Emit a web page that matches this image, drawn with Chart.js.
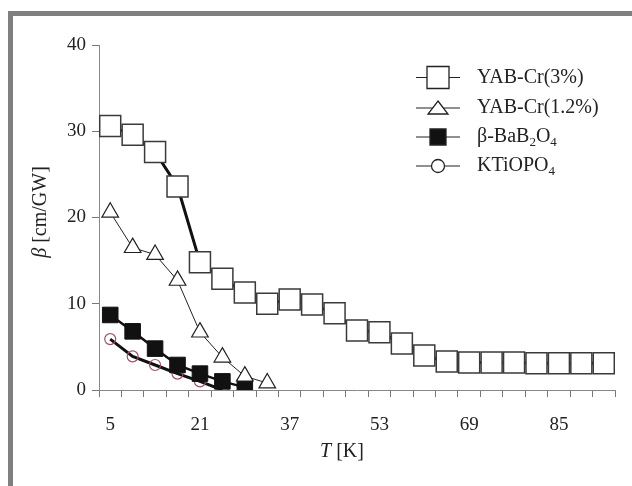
<!DOCTYPE html>
<html>
<head>
<meta charset="utf-8">
<script src="https://cdn.jsdelivr.net/npm/chart.js@4"></script>
<style>
  body { margin: 0; background: #fff; }
  #wrap { position: relative; width: 632px; height: 486px; }
  #frame {
    position: absolute; left: 8px; top: 11px; right: 0; bottom: 0;
    border-top: 5px solid #808080; border-left: 5px solid #808080;
    pointer-events: none;
  }
</style>
</head>
<body>
<div id="wrap">
  <canvas id="chart" width="632" height="486"></canvas>
  <div id="frame"></div>
</div>
<script>
// Temperature categories (K)
const temps = [5, 9, 13, 17, 21, 25, 29, 33, 37, 41, 45, 49, 53, 57, 61, 65, 69, 73, 77, 81, 85, 89, 93];
// beta values (cm/GW)
const yabCr3 = [30.6, 29.6, 27.6, 23.6, 14.8, 12.9, 11.3, 10.0, 10.5, 9.9, 8.9, 6.9, 6.7, 5.4, 4.0, 3.3, 3.2, 3.2, 3.2, 3.1, 3.1, 3.1, 3.1];
const yabCr12 = [20.6, 16.5, 15.7, 12.7, 6.7, 3.8, 1.6, 0.8];
const bbo = [8.7, 6.8, 4.8, 2.9, 1.9, 1.0, 0.3];
const ktp = [5.9, 3.9, 2.9, 1.9, 1.0, 0.0];
const yTicks = [0, 10, 20, 30, 40];

const serif = "'Liberation Serif', 'Times New Roman', serif";

// axis titles and legend drawn by hand (mixed italic and subscripts)
const extras = {
    id: 'extras',
    afterDraw(chart) {
        const ctx = chart.ctx;
        ctx.save();
        ctx.fillStyle = '#222';
        ctx.textBaseline = 'middle';

        // y title
        ctx.save();
        ctx.translate(41, 212);
        ctx.rotate(-Math.PI / 2);
        ctx.font = 'italic 20px ' + serif;
        const wb = ctx.measureText('\u03B2').width;
        ctx.font = '20px ' + serif;
        const wr = ctx.measureText(' [cm/GW]').width;
        let x0 = -(wb + wr) / 2;
        ctx.font = 'italic 20px ' + serif;
        ctx.textAlign = 'left';
        ctx.fillText('\u03B2', x0, 0);
        ctx.font = '20px ' + serif;
        ctx.fillText(' [cm/GW]', x0 + wb, 0);
        ctx.restore();

        // x title
        ctx.font = 'italic 20px ' + serif;
        const wt = ctx.measureText('T').width;
        ctx.font = '20px ' + serif;
        const wk = ctx.measureText(' [K]').width;
        let tx = 342 - (wt + wk) / 2;
        ctx.textAlign = 'left';
        ctx.font = 'italic 20px ' + serif;
        ctx.fillText('T', tx, 452);
        ctx.font = '20px ' + serif;
        ctx.fillText(' [K]', tx + wt, 452);

        // legend
        const rows = [
            { y: 77.5, parts: [['YAB-Cr(3%)', 0]], mark: 'sq' },
            { y: 108, parts: [['YAB-Cr(1.2%)', 0]], mark: 'tri' },
            { y: 137, parts: [['\u03B2-BaB', 0], ['2', 1], ['O', 0], ['4', 1]], mark: 'bsq' },
            { y: 166, parts: [['KTiOPO', 0], ['4', 1]], mark: 'circ' }
        ];
        rows.forEach(r => {
            ctx.strokeStyle = '#222';
            ctx.lineWidth = 1.2;
            ctx.beginPath();
            ctx.moveTo(416, r.y);
            ctx.lineTo(460, r.y);
            ctx.stroke();
            const cx = 438;
            ctx.lineWidth = 1.3;
            ctx.beginPath();
            if (r.mark === 'sq') {
                ctx.fillStyle = '#fff';
                ctx.rect(cx - 11, r.y - 11, 22, 22);
                ctx.fill(); ctx.stroke();
            } else if (r.mark === 'tri') {
                ctx.fillStyle = '#fff';
                ctx.moveTo(cx, r.y - 7);
                ctx.lineTo(cx + 10, r.y + 6);
                ctx.lineTo(cx - 10, r.y + 6);
                ctx.closePath();
                ctx.fill(); ctx.stroke();
            } else if (r.mark === 'bsq') {
                ctx.fillStyle = '#111';
                ctx.rect(cx - 8, r.y - 8, 16, 16);
                ctx.fill(); ctx.stroke();
            } else {
                ctx.fillStyle = '#fff';
                ctx.arc(cx, r.y, 6.5, 0, Math.PI * 2);
                ctx.fill(); ctx.stroke();
            }
            ctx.fillStyle = '#222';
            let px = 477;
            r.parts.forEach(([s, sub]) => {
                ctx.font = (sub ? '13px ' : '20px ') + serif;
                ctx.fillText(s, px, r.y + (sub ? 6 : 0));
                px += ctx.measureText(s).width;
            });
        });
        ctx.restore();
    }
};

new Chart(document.getElementById('chart').getContext('2d'), {
    type: 'line',
    data: {
        labels: temps,
        datasets: [
            {
                label: 'KTiOPO4',
                data: ktp,
                borderColor: '#111',
                borderWidth: 3,
                pointStyle: 'circle',
                pointRadius: 5.5,
                pointBorderColor: '#a0506e',
                pointBorderWidth: 1.2,
                pointBackgroundColor: 'rgba(255,255,255,0)',
                order: 4
            },
            {
                label: 'β-BaB2O4',
                data: bbo,
                borderColor: '#111',
                borderWidth: 2.5,
                pointStyle: 'rect',
                pointRadius: 11,
                pointBorderColor: '#111',
                pointBorderWidth: 1,
                pointBackgroundColor: '#111',
                order: 3
            },
            {
                label: 'YAB-Cr(1.2%)',
                data: yabCr12,
                borderColor: '#222',
                borderWidth: 1,
                pointStyle: 'triangle',
                pointRadius: 9.6,
                pointBorderColor: '#222',
                pointBorderWidth: 1.2,
                pointBackgroundColor: '#fff',
                order: 2
            },
            {
                label: 'YAB-Cr(3%)',
                data: yabCr3,
                borderColor: '#111',
                borderWidth: 3,
                pointStyle: 'rect',
                pointRadius: 14.85,
                pointBorderColor: '#3a3a3a',
                pointBorderWidth: 1.5,
                pointBackgroundColor: '#fff',
                order: 1
            }
        ]
    },
    options: {
        responsive: false,
        animation: false,
        layout: { padding: { top: 45, right: 17, left: 0, bottom: 0 } },
        plugins: { legend: { display: false }, tooltip: { enabled: false } },
        elements: { line: { tension: 0 } },
        scales: {
            x: {
                type: 'category',
                offset: true,
                afterFit: s => { s.height = 96; },
                border: { color: '#888', width: 1 },
                grid: { offset: true, drawOnChartArea: false, drawTicks: true, tickLength: 7, color: '#777' },
                ticks: {
                    autoSkip: false, maxRotation: 0, padding: 17,
                    color: '#222', font: { family: serif, size: 19 },
                    callback: (v, i) => (i % 4 === 0 ? temps[i] : '')
                }
            },
            y: {
                min: 0, max: 40,
                afterFit: s => { s.width = 99; },
                afterBuildTicks: s => { s.ticks = yTicks.map(v => ({ value: v })); },
                border: { color: '#888', width: 1 },
                grid: { drawOnChartArea: false, drawTicks: true, tickLength: 7, color: '#777' },
                ticks: { padding: 6, color: '#222', font: { family: serif, size: 19 } }
            }
        }
    },
    plugins: [extras]
});
</script>
</body>
</html>
